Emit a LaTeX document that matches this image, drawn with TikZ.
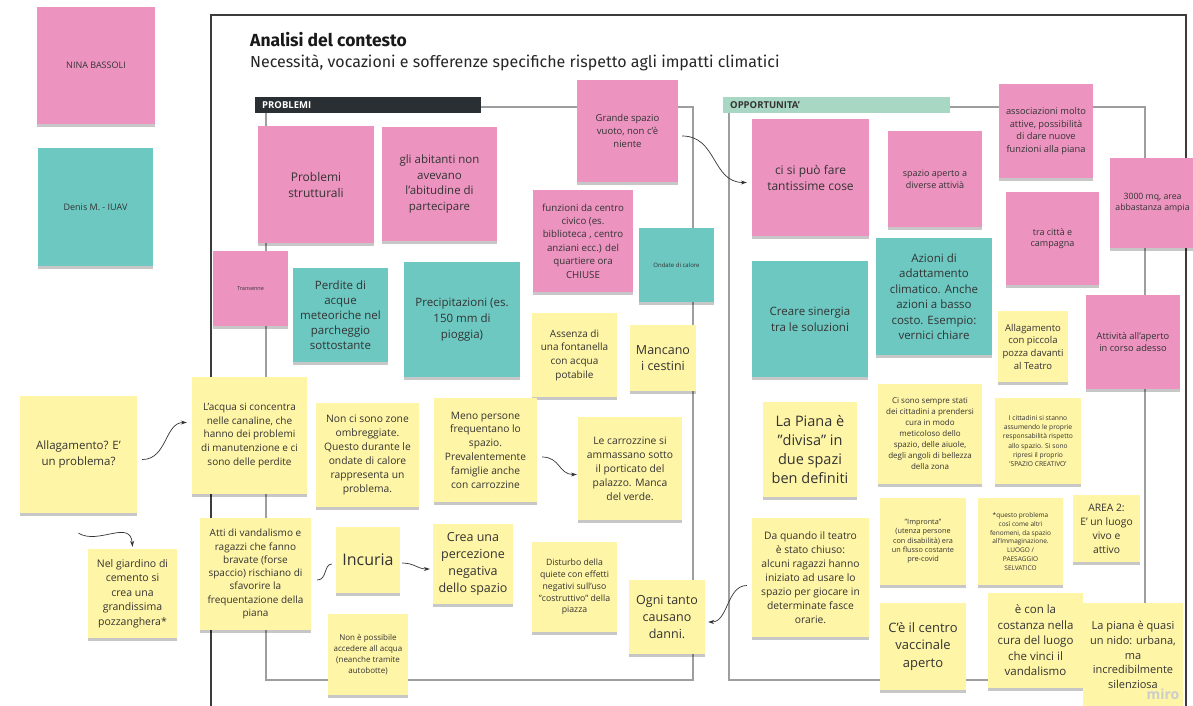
\documentclass[tikz,border=0pt]{standalone}
\usepackage{fontspec}
\setmainfont{Open Sans}
\newfontfamily\titlefont{Fira Sans}
\usetikzlibrary{shadows,arrows.meta}

\definecolor{notepink}{HTML}{EC94BF}
\definecolor{noteteal}{HTML}{6CC8C1}
\definecolor{noteyellow}{HTML}{FFF5A6}
\definecolor{notetext}{HTML}{333333}
\definecolor{framegray}{HTML}{9E9E9E}
\definecolor{framedark}{HTML}{3C3C3C}
\definecolor{barblack}{HTML}{2A2F33}
\definecolor{bargreen}{HTML}{A8D8C3}

\tikzset{
  note/.style={inner sep=0pt, align=center, text=notetext,
    drop shadow={shadow xshift=0pt, shadow yshift=-3pt, opacity=0.22, fill=black}},
  pinknote/.style={note, fill=notepink},
  tealnote/.style={note, fill=noteteal},
  yellownote/.style={note, fill=noteyellow},
  sz/.style 2 args={minimum width=#1, minimum height=#2},
  fs/.style 2 args={font=\fontsize{#1}{#2}\selectfont},
  groupline/.style={framegray, line width=1.1pt},
  link/.style={-{Stealth[length=6pt,width=4pt]}, line width=0.7pt, black!80},
}

\begin{document}
\begin{tikzpicture}[x=1pt, y=-1pt]
    \useasboundingbox (0,0) rectangle (1193,705);
    \fill[white] (0,0) rectangle (1193,705);
    \clip (0,0) rectangle (1193,705);

    % frame and groups
    \draw[framedark, line width=1.3pt] (211,720) |- (1186,15) -- (1186,720);
    \draw[groupline] (481,107) -| (693,680) -| (266,113);
    \draw[groupline] (950,107) -| (1145,680) -| (729,113);

    \node[anchor=base west, inner sep=0pt, font=\titlefont\bfseries\fontsize{17.5}{20}\selectfont, text=black!90] (title) at (250,46) {Analisi del contesto};
    \node[anchor=base west, inner sep=0pt, font=\titlefont\fontsize{16}{19}\selectfont, text=black!85] (subtitle) at (250,67) {Necessità, vocazioni e sofferenze specifiche rispetto agli impatti climatici};

    \node[anchor=north west, fill=barblack, text=white, font=\bfseries\fontsize{9.5}{10}\selectfont,
          text width=212pt, align=left, inner xsep=7pt, inner ysep=0pt, minimum height=16pt] (probbar) at (255,97) {PROBLEMI};
    \node[anchor=north west, fill=bargreen, text=notetext, font=\bfseries\fontsize{9.5}{10}\selectfont,
          text width=213pt, align=left, inner xsep=7pt, inner ysep=0pt, minimum height=16pt] (oppbar) at (723,97) {OPPORTUNITA'};

    % left column
    \node[pinknote, sz={118}{117}, fs={9}{12}] (nina) at (96,65.5) {NINA BASSOLI};
    \node[tealnote, sz={115}{118}, fs={9}{12}] (denis) at (95.5,207) {Denis M. - IUAV};
    \node[yellownote, sz={117}{117}, fs={11.5}{15.5}] (allag) at (78.5,454.5) {Allagamento? E'\\un problema?};
    \node[yellownote, sz={89}{89}, fs={10.5}{14.5}] (giardino) at (132.5,593.5) {Nel giardino di\\cemento si\\crea una\\grandissima\\pozzanghera*};

    % problemi
    \node[pinknote, sz={75}{75}, fs={5.5}{7}] (transenne) at (250.5,288.5) {Transenne};
    \node[pinknote, sz={116}{117}, fs={12}{16}] (strutt) at (316,184.5) {Problemi\\strutturali};
    \node[pinknote, sz={115}{114}, fs={11.5}{15.7}] (abitanti) at (439.5,184) {gli abitanti non\\avevano\\l'abitudine di\\partecipare};
    \node[pinknote, sz={101}{102}, fs={9.5}{13}] (grande) at (627.5,131) {Grande spazio\\vuoto, non c'è\\niente};
    \node[pinknote, sz={100}{102}, fs={9.7}{13.4}] (funzioni) at (583,241) {funzioni da centro\\civico (es.\\biblioteca , centro\\anziani ecc.) del\\quartiere ora\\CHIUSE};
    \node[tealnote, sz={75}{74}, fs={6}{8}] (ondate) at (676.5,265) {Ondate di calore};
    \node[tealnote, sz={95}{94}, fs={11.5}{15}] (perdite) at (340.5,315) {Perdite di\\acque\\meteoriche nel\\parcheggio\\sottostante};
    \node[tealnote, sz={116}{115}, fs={11.5}{15.7}] (precip) at (462,319.5) {Precipitazioni (es.\\150 mm di\\pioggia)};
    \node[yellownote, sz={85}{84}, fs={10}{13.7}] (assenza) at (574.5,355) {Assenza di\\una fontanella\\con acqua\\potabile};
    \node[yellownote, sz={66}{66}, fs={12.5}{16.7}] (mancano) at (663,358) {Mancano\\i cestini};
    \node[yellownote, sz={115}{117}, fs={10}{13.7}] (acqua) at (249.5,435.5) {L'acqua si concentra\\nelle canaline, che\\hanno dei problemi\\di manutenzione e ci\\sono delle perdite};
    \node[yellownote, sz={103}{104}, fs={10.3}{14}] (ombre) at (367.5,455) {Non ci sono zone\\ombreggiate.\\Questo durante le\\ondate di calore\\rappresenta un\\problema.};
    \node[yellownote, sz={103}{104}, fs={10.2}{13.8}] (meno) at (485.5,450) {Meno persone\\frequentano lo\\spazio.\\Prevalentemente\\famiglie anche\\con carrozzine};
    \node[yellownote, sz={104}{103}, fs={10.3}{14}] (carroz) at (630,468.5) {Le carrozzine si\\ammassano sotto\\il porticato del\\palazzo. Manca\\del verde.};
    \node[yellownote, sz={111}{112}, fs={10}{13.3}] (atti) at (255.5,574) {Atti di vandalismo e\\ragazzi che fanno\\bravate (forse\\spaccio) rischiano di\\sfavorire la\\frequentazione della\\piana};
    \node[yellownote, sz={64}{66}, fs={16}{19}] (incuria) at (368,560) {Incuria};
    \node[yellownote, sz={80}{80}, fs={12.5}{16.7}] (crea) at (473,564) {Crea una\\percezione\\negativa\\dello spazio};
    \node[yellownote, sz={80}{81}, fs={8}{11}] (nonposs) at (368,654.5) {Non è possibile\\accedere all acqua\\(neanche tramite\\autobotte)};
    \node[yellownote, sz={85}{90}, fs={8.7}{11.8}] (disturbo) at (574.5,587) {Disturbo della\\quiete con effetti\\negativi sull'uso\\"costruttivo" della\\piazza};
    \node[yellownote, sz={76}{74}, fs={12.5}{17}] (ogni) at (667,617) {Ogni tanto\\causano\\danni.};

    % opportunita
    \node[pinknote, sz={117}{117}, fs={12}{16}] (cisi) at (810.5,177.5) {ci si può fare\\tantissime cose};
    \node[pinknote, sz={94}{96}, fs={9}{12.3}] (spazioap) at (935,179) {spazio aperto a\\diverse attivià};
    \node[pinknote, sz={94}{94}, fs={9.3}{12.5}] (assoc) at (1046,131) {associazioni molto\\attive, possibilità\\di dare nuove\\funzioni alla piana};
    \node[pinknote, sz={85}{90}, fs={8.7}{11.7}] (mq) at (1152.5,203) {3000 mq, area\\abbastanza ampia};
    \node[pinknote, sz={93}{93}, fs={9}{11.7}] (tracitta) at (1052.5,238.5) {tra città e\\campagna};
    \node[tealnote, sz={116}{116}, fs={11.5}{15.7}] (sinergia) at (810,319) {Creare sinergia\\tra le soluzioni};
    \node[tealnote, sz={116}{117}, fs={11.5}{15.5}] (azioni) at (934,296.5) {Azioni di\\adattamento\\climatico. Anche\\azioni a basso\\costo. Esempio:\\vernici chiare};
    \node[yellownote, sz={70}{71}, fs={9.5}{12.7}] (allagteatro) at (1033,346.5) {Allagamento\\con piccola\\pozza davanti\\al Teatro};
    \node[pinknote, sz={94}{94}, fs={9.3}{12.7}] (attivita) at (1133,342) {Attività all'aperto\\in corso adesso};
    \node[yellownote, sz={94}{95}, fs={14.5}{19}] (piana) at (810,449.5) {La Piana è\\"divisa" in\\due spazi\\ben definiti};
    \node[yellownote, sz={104}{100}, fs={8}{11}] (cittadini) at (930,434) {Ci sono sempre stati\\dei cittadini a prendersi\\cura in modo\\meticoloso dello\\spazio, delle aiuole,\\degli angoli di bellezza\\della zona};
    \node[yellownote, sz={86}{86}, fs={6.7}{9.2}] (respons) at (1038,441) {I cittadini si stanno\\assumendo le proprie\\responsabilità rispetto\\allo spazio. Si sono\\ripresi il proprio\\'SPAZIO CREATIVO'};
    \node[yellownote, sz={117}{119}, fs={10.3}{14}] (daquando) at (810.5,577.5) {Da quando il teatro\\è stato chiuso:\\alcuni ragazzi hanno\\iniziato ad usare lo\\spazio per giocare in\\determinate fasce\\orarie.};
    \node[yellownote, sz={86}{87}, fs={7.3}{9.3}] (impronta) at (923,541.5) {"Impronta"\\(utenza persone\\con disabilità) era\\un flusso costante\\pre-covid};
    \node[yellownote, sz={85}{87}, fs={6.5}{8.7}] (questo) at (1020.5,541.5) {*questo problema\\così come altri\\fenomeni, da spazio\\all'Immaginazione.\\LUOGO /\\PAESAGGIO\\SELVATICO};
    \node[yellownote, sz={67}{67}, fs={10.3}{14}] (area) at (1106.5,528.5) {AREA 2:\\E' un luogo\\vivo e\\attivo};
    \node[yellownote, sz={86}{87}, fs={13}{17.5}] (centro) at (923,646.5) {C'è il centro\\vaccinale\\aperto};
    \node[yellownote, sz={95}{95}, fs={11.5}{15.5}] (costanza) at (1035.5,640.5) {è con la\\costanza nella\\cura del luogo\\che vinci il\\vandalismo};
    \node[yellownote, sz={100}{105}, fs={11}{14.7}] (nido) at (1133,655) {La piana è quasi\\un nido: urbana,\\ma\\incredibilmente\\silenziosa};

    \node[text=gray!40, font=\bfseries\fontsize{14}{16}\selectfont, inner sep=0pt] (miro) at (1163,694) {miro};

    % connectors
    \draw[link] ([xshift=5pt,yshift=-5pt]allag.east) .. controls +(25,0) and +(-22,0) .. ([xshift=-5pt,yshift=13pt]acqua.west);
    \draw[link] ([yshift=-20pt]allag.south) .. controls +(20,12) and +(-2,-28) .. ([yshift=2pt]giardino.north);
    \draw[link] ([xshift=4pt,yshift=-5pt]grande.east) .. controls +(35,0) and +(-35,0) .. ([xshift=-5pt,yshift=-5pt]cisi.west);
    \draw[link] ([xshift=5pt,yshift=-7pt]meno.east) .. controls +(18,0) and +(-18,0) .. ([xshift=-1pt,yshift=-6pt]carroz.west);
    \draw[line width=0.7pt, black!80] ([xshift=6pt,yshift=-6pt]atti.east) .. controls +(10,0) and +(-8,0) .. ([xshift=-4pt,yshift=-4pt]incuria.west);
    \draw[link] ([xshift=2pt,yshift=-3pt]incuria.east) .. controls +(12,0) and +(-12,0) .. ([xshift=-3pt,yshift=-5pt]crea.west);
    \draw[link] ([xshift=-5pt,yshift=-8pt]daquando.west) .. controls +(-20,0) and +(20,0) .. ([xshift=3pt,yshift=-5pt]ogni.east);
\end{tikzpicture}
\end{document}
